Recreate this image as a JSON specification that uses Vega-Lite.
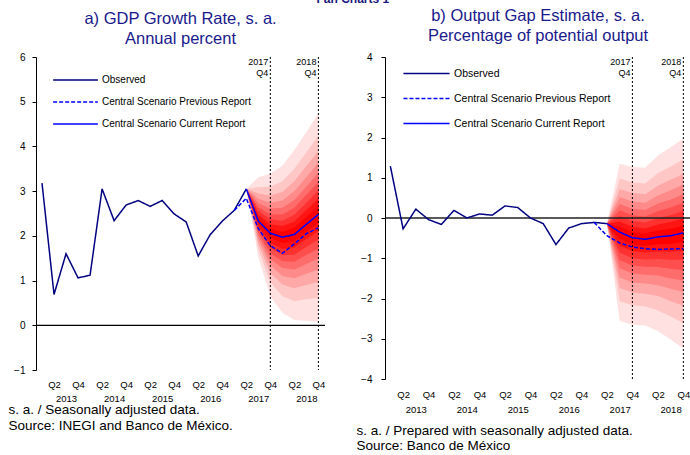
{
  "$schema": "https://vega.github.io/schema/vega-lite/v6.json",
  "padding": {"left": 8, "top": -7, "right": 0, "bottom": 0},
  "title": {"text": "Fan Charts 1", "fontSize": 12, "fontWeight": "bold", "color": "#1a1a80", "font": "Liberation Sans", "anchor": "middle", "offset": 1.5, "dx": 3},
  "config": {"view": {"stroke": null}, "font": "Liberation Sans", "axis": {"labelOverlap": false}},
  "spacing": 30,
  "resolve": {
    "scale": {"x": "independent", "y": "independent", "color": "independent", "strokeDash": "independent", "fill": "independent"},
    "axis": {"x": "independent", "y": "independent"},
    "legend": {"color": "independent", "strokeDash": "independent", "fill": "independent"}
  },
  "datasets": {
    "fanA": [
      {"t":17,"lv":9,"lo":3.05,"hi":3.05},{"t":18,"lv":9,"lo":1.52,"hi":3.31},{"t":19,"lv":9,"lo":0.65,"hi":3.39},{"t":20,"lv":9,"lo":0.28,"hi":3.57},{"t":21,"lv":9,"lo":0.12,"hi":3.92},{"t":22,"lv":9,"lo":0.10,"hi":4.32},{"t":23,"lv":9,"lo":0.08,"hi":4.74},
      {"t":17,"lv":8,"lo":3.05,"hi":3.05},{"t":18,"lv":8,"lo":1.70,"hi":3.09},{"t":19,"lv":8,"lo":0.96,"hi":3.10},{"t":20,"lv":8,"lo":0.65,"hi":3.22},{"t":21,"lv":8,"lo":0.54,"hi":3.50},{"t":22,"lv":8,"lo":0.58,"hi":3.87},{"t":23,"lv":8,"lo":0.61,"hi":4.24},
      {"t":17,"lv":7,"lo":3.05,"hi":3.05},{"t":18,"lv":7,"lo":1.82,"hi":2.95},{"t":19,"lv":7,"lo":1.17,"hi":2.90},{"t":20,"lv":7,"lo":0.91,"hi":2.98},{"t":21,"lv":7,"lo":0.83,"hi":3.22},{"t":22,"lv":7,"lo":0.90,"hi":3.56},{"t":23,"lv":7,"lo":0.97,"hi":3.90},
      {"t":17,"lv":6,"lo":3.05,"hi":3.05},{"t":18,"lv":6,"lo":1.92,"hi":2.83},{"t":19,"lv":6,"lo":1.34,"hi":2.74},{"t":20,"lv":6,"lo":1.10,"hi":2.79},{"t":21,"lv":6,"lo":1.05,"hi":3.00},{"t":22,"lv":6,"lo":1.15,"hi":3.31},{"t":23,"lv":6,"lo":1.25,"hi":3.64},
      {"t":17,"lv":5,"lo":3.05,"hi":3.05},{"t":18,"lv":5,"lo":2.00,"hi":2.73},{"t":19,"lv":5,"lo":1.48,"hi":2.61},{"t":20,"lv":5,"lo":1.28,"hi":2.63},{"t":21,"lv":5,"lo":1.25,"hi":2.80},{"t":22,"lv":5,"lo":1.37,"hi":3.10},{"t":23,"lv":5,"lo":1.50,"hi":3.41},
      {"t":17,"lv":4,"lo":3.05,"hi":3.05},{"t":18,"lv":4,"lo":2.07,"hi":2.64},{"t":19,"lv":4,"lo":1.61,"hi":2.48},{"t":20,"lv":4,"lo":1.43,"hi":2.48},{"t":21,"lv":4,"lo":1.42,"hi":2.63},{"t":22,"lv":4,"lo":1.57,"hi":2.92},{"t":23,"lv":4,"lo":1.71,"hi":3.20},
      {"t":17,"lv":3,"lo":3.05,"hi":3.05},{"t":18,"lv":3,"lo":2.14,"hi":2.56},{"t":19,"lv":3,"lo":1.73,"hi":2.37},{"t":20,"lv":3,"lo":1.57,"hi":2.34},{"t":21,"lv":3,"lo":1.58,"hi":2.47},{"t":22,"lv":3,"lo":1.75,"hi":2.74},{"t":23,"lv":3,"lo":1.92,"hi":3.01},
      {"t":17,"lv":2,"lo":3.05,"hi":3.05},{"t":18,"lv":2,"lo":2.21,"hi":2.48},{"t":19,"lv":2,"lo":1.84,"hi":2.26},{"t":20,"lv":2,"lo":1.71,"hi":2.22},{"t":21,"lv":2,"lo":1.74,"hi":2.32},{"t":22,"lv":2,"lo":1.93,"hi":2.58},{"t":23,"lv":2,"lo":2.11,"hi":2.83},
      {"t":17,"lv":1,"lo":3.05,"hi":3.05},{"t":18,"lv":1,"lo":2.27,"hi":2.41},{"t":19,"lv":1,"lo":1.95,"hi":2.16},{"t":20,"lv":1,"lo":1.84,"hi":2.09},{"t":21,"lv":1,"lo":1.88,"hi":2.18},{"t":22,"lv":1,"lo":2.09,"hi":2.42},{"t":23,"lv":1,"lo":2.30,"hi":2.65}
    ],
    "fanB": [
      {"t":17,"lv":9,"lo":-0.14,"hi":-0.14},{"t":18,"lv":9,"lo":-2.55,"hi":1.35},{"t":19,"lv":9,"lo":-2.65,"hi":1.27},{"t":20,"lv":9,"lo":-2.67,"hi":1.25},{"t":21,"lv":9,"lo":-2.81,"hi":1.55},{"t":22,"lv":9,"lo":-3.02,"hi":1.76},{"t":23,"lv":9,"lo":-3.24,"hi":1.97},
      {"t":17,"lv":8,"lo":-0.14,"hi":-0.14},{"t":18,"lv":8,"lo":-2.07,"hi":0.98},{"t":19,"lv":8,"lo":-2.17,"hi":0.88},{"t":20,"lv":8,"lo":-2.20,"hi":0.86},{"t":21,"lv":8,"lo":-2.30,"hi":1.11},{"t":22,"lv":8,"lo":-2.45,"hi":1.28},{"t":23,"lv":8,"lo":-2.61,"hi":1.46},
      {"t":17,"lv":7,"lo":-0.14,"hi":-0.14},{"t":18,"lv":7,"lo":-1.74,"hi":0.72},{"t":19,"lv":7,"lo":-1.85,"hi":0.62},{"t":20,"lv":7,"lo":-1.88,"hi":0.59},{"t":21,"lv":7,"lo":-1.94,"hi":0.80},{"t":22,"lv":7,"lo":-2.07,"hi":0.95},{"t":23,"lv":7,"lo":-2.18,"hi":1.10},
      {"t":17,"lv":6,"lo":-0.14,"hi":-0.14},{"t":18,"lv":6,"lo":-1.48,"hi":0.52},{"t":19,"lv":6,"lo":-1.60,"hi":0.41},{"t":20,"lv":6,"lo":-1.63,"hi":0.38},{"t":21,"lv":6,"lo":-1.67,"hi":0.56},{"t":22,"lv":6,"lo":-1.76,"hi":0.69},{"t":23,"lv":6,"lo":-1.84,"hi":0.83},
      {"t":17,"lv":5,"lo":-0.14,"hi":-0.14},{"t":18,"lv":5,"lo":-1.25,"hi":0.35},{"t":19,"lv":5,"lo":-1.38,"hi":0.23},{"t":20,"lv":5,"lo":-1.41,"hi":0.20},{"t":21,"lv":5,"lo":-1.43,"hi":0.36},{"t":22,"lv":5,"lo":-1.50,"hi":0.46},{"t":23,"lv":5,"lo":-1.55,"hi":0.59},
      {"t":17,"lv":4,"lo":-0.14,"hi":-0.14},{"t":18,"lv":4,"lo":-1.05,"hi":0.19},{"t":19,"lv":4,"lo":-1.18,"hi":0.07},{"t":20,"lv":4,"lo":-1.21,"hi":0.04},{"t":21,"lv":4,"lo":-1.22,"hi":0.17},{"t":22,"lv":4,"lo":-1.26,"hi":0.26},{"t":23,"lv":4,"lo":-1.29,"hi":0.38},
      {"t":17,"lv":3,"lo":-0.14,"hi":-0.14},{"t":18,"lv":3,"lo":-0.86,"hi":0.05},{"t":19,"lv":3,"lo":-1.00,"hi":-0.08},{"t":20,"lv":3,"lo":-1.03,"hi":-0.11},{"t":21,"lv":3,"lo":-1.02,"hi":0.00},{"t":22,"lv":3,"lo":-1.04,"hi":0.07},{"t":23,"lv":3,"lo":-1.04,"hi":0.18},
      {"t":17,"lv":2,"lo":-0.14,"hi":-0.14},{"t":18,"lv":2,"lo":-0.69,"hi":-0.09},{"t":19,"lv":2,"lo":-0.82,"hi":-0.22},{"t":20,"lv":2,"lo":-0.86,"hi":-0.26},{"t":21,"lv":2,"lo":-0.83,"hi":-0.16},{"t":22,"lv":2,"lo":-0.84,"hi":-0.10},{"t":23,"lv":2,"lo":-0.81,"hi":-0.01},
      {"t":17,"lv":1,"lo":-0.14,"hi":-0.14},{"t":18,"lv":1,"lo":-0.52,"hi":-0.22},{"t":19,"lv":1,"lo":-0.66,"hi":-0.35},{"t":20,"lv":1,"lo":-0.69,"hi":-0.39},{"t":21,"lv":1,"lo":-0.65,"hi":-0.31},{"t":22,"lv":1,"lo":-0.64,"hi":-0.27},{"t":23,"lv":1,"lo":-0.59,"hi":-0.19}
    ],
    "lineA": [
      {"t":0,"s":"Observed","v":3.18},{"t":1,"s":"Observed","v":0.69},{"t":2,"s":"Observed","v":1.6},{"t":3,"s":"Observed","v":1.06},{"t":4,"s":"Observed","v":1.12},{"t":5,"s":"Observed","v":3.05},{"t":6,"s":"Observed","v":2.34},{"t":7,"s":"Observed","v":2.69},{"t":8,"s":"Observed","v":2.79},{"t":9,"s":"Observed","v":2.66},{"t":10,"s":"Observed","v":2.79},{"t":11,"s":"Observed","v":2.49},{"t":12,"s":"Observed","v":2.31},{"t":13,"s":"Observed","v":1.55},{"t":14,"s":"Observed","v":2.03},{"t":15,"s":"Observed","v":2.33},{"t":16,"s":"Observed","v":2.57},{"t":17,"s":"Observed","v":3.05},
      {"t":16,"s":"Central Scenario Previous Report","v":2.57},{"t":17,"s":"Central Scenario Previous Report","v":2.84},{"t":18,"s":"Central Scenario Previous Report","v":2.16},{"t":19,"s":"Central Scenario Previous Report","v":1.78},{"t":20,"s":"Central Scenario Previous Report","v":1.61},{"t":21,"s":"Central Scenario Previous Report","v":1.82},{"t":22,"s":"Central Scenario Previous Report","v":2.05},{"t":23,"s":"Central Scenario Previous Report","v":2.18},
      {"t":17,"s":"Central Scenario Current Report","v":3.05},{"t":18,"s":"Central Scenario Current Report","v":2.33},{"t":19,"s":"Central Scenario Current Report","v":2.06},{"t":20,"s":"Central Scenario Current Report","v":1.97},{"t":21,"s":"Central Scenario Current Report","v":2.03},{"t":22,"s":"Central Scenario Current Report","v":2.26},{"t":23,"s":"Central Scenario Current Report","v":2.48}
    ],
    "lineB": [
      {"t":0,"s":"Observed","v":1.29},{"t":1,"s":"Observed","v":-0.27},{"t":2,"s":"Observed","v":0.22},{"t":3,"s":"Observed","v":-0.04},{"t":4,"s":"Observed","v":-0.16},{"t":5,"s":"Observed","v":0.19},{"t":6,"s":"Observed","v":0.0},{"t":7,"s":"Observed","v":0.1},{"t":8,"s":"Observed","v":0.07},{"t":9,"s":"Observed","v":0.3},{"t":10,"s":"Observed","v":0.26},{"t":11,"s":"Observed","v":0.0},{"t":12,"s":"Observed","v":-0.14},{"t":13,"s":"Observed","v":-0.66},{"t":14,"s":"Observed","v":-0.25},{"t":15,"s":"Observed","v":-0.14},{"t":16,"s":"Observed","v":-0.11},{"t":17,"s":"Observed","v":-0.14},
      {"t":16,"s":"Central Scenario Previous Report","v":-0.11},{"t":17,"s":"Central Scenario Previous Report","v":-0.44},{"t":18,"s":"Central Scenario Previous Report","v":-0.62},{"t":19,"s":"Central Scenario Previous Report","v":-0.72},{"t":20,"s":"Central Scenario Previous Report","v":-0.76},{"t":21,"s":"Central Scenario Previous Report","v":-0.78},{"t":22,"s":"Central Scenario Previous Report","v":-0.77},{"t":23,"s":"Central Scenario Previous Report","v":-0.76},
      {"t":17,"s":"Central Scenario Current Report","v":-0.14},{"t":18,"s":"Central Scenario Current Report","v":-0.35},{"t":19,"s":"Central Scenario Current Report","v":-0.49},{"t":20,"s":"Central Scenario Current Report","v":-0.53},{"t":21,"s":"Central Scenario Current Report","v":-0.47},{"t":22,"s":"Central Scenario Current Report","v":-0.44},{"t":23,"s":"Central Scenario Current Report","v":-0.37}
    ],
    "vlines": [{"t":19,"lab":"2017\nQ4"},{"t":23,"lab":"2018\nQ4"}],
    "zero": [{"v":0}]
  },
  "hconcat": [
    {
      "width": 289,
      "height": 313,
      "title": {"text": ["a) GDP Growth Rate, s. a.", "Annual percent"], "fontSize": 16.5, "fontWeight": "normal", "color": "#1a1a8c", "lineHeight": 20, "offset": 5, "anchor": "middle"},
      "layer": [
        {
          "data": {"name": "fanA"},
          "mark": {"type": "area", "opacity": 1},
          "encoding": {
            "x": {"field": "t", "type": "quantitative", "scale": {"domain": [-0.5, 23.55], "nice": false, "zero": false},
              "axis": {"values": [1,2,3,5,6,7,9,10,11,13,14,15,17,18,19,21,22,23], "tickCount": 40,
                "labelExpr": "datum.value % 4 == 2 ? '' + (2013 + floor(datum.value / 4)) : (datum.value % 4 == 1 ? 'Q2' : 'Q4')",
                "ticks": false, "domain": false, "grid": false, "labelFontSize": 9.5, "labelFontWeight": "normal", "labelColor": "black",
                "labelPadding": {"condition": {"test": "datum.value % 4 == 2", "value": 23}, "value": 9},
                "labelOverlap": false, "labelFlush": false,
                "title": ["s. a. / Seasonally adjusted data.", "Source: INEGI and Banco de México."],
                "titleFontSize": 13.5, "titleFontWeight": "normal", "titleAnchor": "start", "titleAlign": "left", "titleX": -28, "titleY": 32.5, "titleBaseline": "top", "titleLineHeight": 15.5, "titleColor": "black"}},
            "y": {"field": "hi", "type": "quantitative", "stack": null, "scale": {"domain": [-1, 6], "nice": false, "zero": false},
              "axis": {"values": [-1,0,1,2,3,4,5,6], "tickCount": 20, "title": null, "grid": false, "domainColor": "black", "tickColor": "black", "tickSize": 4, "labelFontSize": 10, "labelColor": "black", "labelPadding": 7, "format": "d"}},
            "y2": {"field": "lo"},
            "fill": {"field": "lv", "type": "ordinal", "scale": {"domain": [9,8,7,6,5,4,3,2,1], "range": ["#FFE1E1","#FFC6C6","#FFA8A8","#FF8A8A","#FF6C6C","#FF4E4E","#FF3030","#FF1414","#FF0000"]}, "legend": null}
          }
        },
        {
          "data": {"name": "zero"},
          "mark": {"type": "rule", "color": "black", "strokeWidth": 1.2},
          "encoding": {"y": {"field": "v", "type": "quantitative"}}
        },
        {
          "data": {"name": "vlines"},
          "mark": {"type": "rule", "color": "black", "strokeWidth": 1, "strokeDash": [2, 2]},
          "encoding": {"x": {"field": "t", "type": "quantitative"}}
        },
        {
          "data": {"name": "vlines"},
          "mark": {"type": "text", "align": "right", "baseline": "top", "dx": -2, "dy": 1, "fontSize": 9, "lineBreak": "\n", "lineHeight": 11, "color": "black"},
          "encoding": {"x": {"field": "t", "type": "quantitative"}, "y": {"datum": 6}, "text": {"field": "lab"}}
        },
        {
          "data": {"name": "lineA"},
          "mark": {"type": "line", "strokeWidth": 1.5},
          "encoding": {
            "x": {"field": "t", "type": "quantitative"},
            "y": {"field": "v", "type": "quantitative"},
            "color": {"field": "s", "type": "nominal", "scale": {"domain": ["Observed", "Central Scenario Previous Report", "Central Scenario Current Report"], "range": ["#000080", "#0000FF", "#0000FF"]},
              "legend": {"title": null, "orient": "none", "legendX": 34, "legendY": 17.5, "symbolType": "M-5,0H5", "symbolSize": 80, "symbolStrokeWidth": 1.5, "labelOffset": 21, "labelFontSize": 10, "labelColor": "black", "rowPadding": 11, "labelLimit": 300}},
            "strokeDash": {"field": "s", "type": "nominal", "scale": {"domain": ["Observed", "Central Scenario Previous Report", "Central Scenario Current Report"], "range": [[1, 0], [4, 2], [1, 0]]},
              "legend": {"title": null, "orient": "none", "legendX": 34, "legendY": 17.5, "symbolType": "M-5,0H5", "symbolSize": 80, "symbolStrokeWidth": 1.5, "labelOffset": 21, "labelFontSize": 10, "labelColor": "black", "rowPadding": 11, "labelLimit": 300}}
          }
        }
      ]
    },
    {
      "width": 306,
      "height": 322,
      "title": {"text": ["b) Output Gap Estimate, s. a.", "Percentage of potential output"], "fontSize": 16.5, "fontWeight": "normal", "color": "#1a1a8c", "lineHeight": 20, "offset": 8, "anchor": "middle"},
      "layer": [
        {
          "data": {"name": "fanB"},
          "mark": {"type": "area", "opacity": 1},
          "encoding": {
            "x": {"field": "t", "type": "quantitative", "scale": {"domain": [-0.42, 23.6], "nice": false, "zero": false},
              "axis": {"values": [1,2,3,5,6,7,9,10,11,13,14,15,17,18,19,21,22,23], "tickCount": 40,
                "labelExpr": "datum.value % 4 == 2 ? '' + (2013 + floor(datum.value / 4)) : (datum.value % 4 == 1 ? 'Q2' : 'Q4')",
                "ticks": false, "domain": false, "grid": false, "labelFontSize": 9.5, "labelFontWeight": "normal", "labelColor": "black",
                "labelPadding": {"condition": {"test": "datum.value % 4 == 2", "value": 25}, "value": 10},
                "labelOverlap": false, "labelFlush": false,
                "title": ["s. a. / Prepared with seasonally adjusted data.", "Source: Banco de México"],
                "titleFontSize": 13.5, "titleFontWeight": "normal", "titleAnchor": "start", "titleAlign": "left", "titleX": -29, "titleY": 44, "titleBaseline": "top", "titleLineHeight": 15.5, "titleColor": "black"}},
            "y": {"field": "hi", "type": "quantitative", "stack": null, "scale": {"domain": [-4, 4], "nice": false, "zero": false},
              "axis": {"values": [-4,-3,-2,-1,0,1,2,3,4], "tickCount": 20, "title": null, "grid": false, "domainColor": "black", "tickColor": "black", "tickSize": 4, "labelFontSize": 10, "labelColor": "black", "labelPadding": 9, "format": "d"}},
            "y2": {"field": "lo"},
            "fill": {"field": "lv", "type": "ordinal", "scale": {"domain": [9,8,7,6,5,4,3,2,1], "range": ["#FFE1E1","#FFC6C6","#FFA8A8","#FF8A8A","#FF6C6C","#FF4E4E","#FF3030","#FF1414","#FF0000"]}, "legend": null}
          }
        },
        {
          "data": {"name": "zero"},
          "mark": {"type": "rule", "color": "#222222", "strokeWidth": 1.5},
          "encoding": {"y": {"field": "v", "type": "quantitative"}}
        },
        {
          "data": {"name": "vlines"},
          "mark": {"type": "rule", "color": "black", "strokeWidth": 1, "strokeDash": [2, 2]},
          "encoding": {"x": {"field": "t", "type": "quantitative"}}
        },
        {
          "data": {"name": "vlines"},
          "mark": {"type": "text", "align": "right", "baseline": "top", "dx": -2, "dy": 1, "fontSize": 9, "lineBreak": "\n", "lineHeight": 11, "color": "black"},
          "encoding": {"x": {"field": "t", "type": "quantitative"}, "y": {"datum": 4}, "text": {"field": "lab"}}
        },
        {
          "data": {"name": "lineB"},
          "mark": {"type": "line", "strokeWidth": 1.5},
          "encoding": {
            "x": {"field": "t", "type": "quantitative"},
            "y": {"field": "v", "type": "quantitative"},
            "color": {"field": "s", "type": "nominal", "scale": {"domain": ["Observed", "Central Scenario Previous Report", "Central Scenario Current Report"], "range": ["#000080", "#0000FF", "#0000FF"]},
              "legend": {"title": null, "orient": "none", "legendX": 36, "legendY": 11, "symbolType": "M-5,0H5", "symbolSize": 85, "symbolStrokeWidth": 1.5, "labelOffset": 22, "labelFontSize": 10.5, "labelColor": "black", "rowPadding": 14, "labelLimit": 300}},
            "strokeDash": {"field": "s", "type": "nominal", "scale": {"domain": ["Observed", "Central Scenario Previous Report", "Central Scenario Current Report"], "range": [[1, 0], [4, 2], [1, 0]]},
              "legend": {"title": null, "orient": "none", "legendX": 36, "legendY": 11, "symbolType": "M-5,0H5", "symbolSize": 85, "symbolStrokeWidth": 1.5, "labelOffset": 22, "labelFontSize": 10.5, "labelColor": "black", "rowPadding": 14, "labelLimit": 300}}
          }
        }
      ]
    }
  ]
}
